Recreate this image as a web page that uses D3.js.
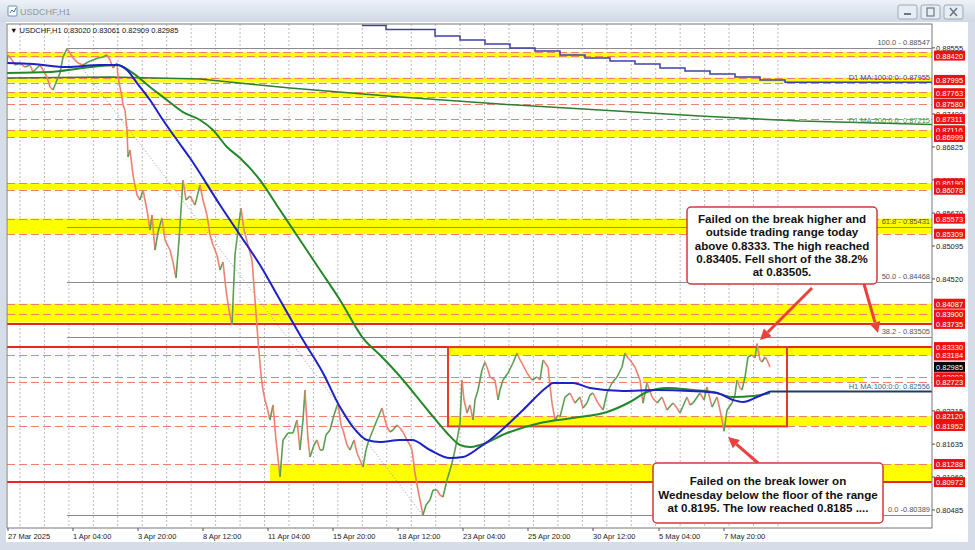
<!DOCTYPE html>
<html><head><meta charset="utf-8">
<script src="https://cdn.jsdelivr.net/npm/d3@7"></script>
<style>
body{margin:0;background:#fff;}
svg{display:block;font-family:"Liberation Sans",Arial,sans-serif;}
</style></head>
<body><svg id="chart" width="975" height="550"></svg>
<script>
// ---------------- DATA ----------------
const symbolTitle = "USDCHF,H1";
const ohlcInfo = "USDCHF,H1  0.83020 0.83061 0.82909 0.82985";

// hourly bar index , close
const usdchfClose = [[0,0.88308],[1,0.88430],[5,0.88342],[8,0.88255],[13,0.88290],[18,0.88220],[23,0.88255],[26,0.88133],[30,0.88203],[33,0.88255],[36,0.88168],[40,0.88046],[43,0.87871],[46,0.87819],[50,0.87993],[53,0.88115],[56,0.88395],[60,0.88540],[63,0.88465],[66,0.88377],[71,0.88290],[76,0.88255],[81,0.88308],[86,0.88342],[91,0.88377],[96,0.88395],[100,0.88430],[103,0.88342],[106,0.88203],[110,0.88290],[111,0.88046],[113,0.87871],[115,0.87696],[116,0.87557],[118,0.87469],[120,0.87120],[121,0.86649],[123,0.86771],[126,0.86334],[130,0.85985],[133,0.85898],[136,0.86073],[140,0.85723],[143,0.85374],[145,0.85636],[148,0.85025],[151,0.85339],[155,0.85584],[158,0.85199],[163,0.85025],[166,0.84815],[169,0.84536],[172,0.85199],[176,0.86247],[179,0.85898],[183,0.85968],[188,0.85811],[193,0.86160],[196,0.85898],[200,0.85636],[203,0.85287],[206,0.85112],[210,0.84938],[213,0.84676],[216,0.84815],[219,0.84326],[222,0.83977],[225,0.83715],[228,0.84938],[231,0.85374],[234,0.85758],[237,0.85374],[241,0.85112],[245,0.84850],[248,0.84152],[251,0.83453],[254,0.82842],[256,0.82580],[258,0.82406],[260,0.82283],[263,0.82057],[266,0.82318],[269,0.81707],[273,0.81061],[276,0.81707],[281,0.81830],[286,0.81830],[290,0.82057],[293,0.81533],[296,0.82057],[298,0.82580],[301,0.81707],[303,0.81410],[307,0.81620],[310,0.81707],[313,0.81533],[316,0.81533],[319,0.81795],[323,0.81882],[327,0.82144],[331,0.82353],[334,0.81969],[336,0.81882],[340,0.81620],[343,0.81533],[347,0.81707],[350,0.81480],[353,0.81358],[356,0.81236],[359,0.81533],[361,0.81655],[364,0.81795],[366,0.81882],[370,0.82057],[375,0.82266],[378,0.82057],[380,0.81934],[383,0.81847],[386,0.81882],[390,0.81969],[393,0.81917],[396,0.81847],[400,0.81707],[403,0.81620],[405,0.81533],[408,0.81131],[411,0.80834],[413,0.80660],[416,0.80398],[419,0.80572],[423,0.80660],[426,0.80834],[430,0.80834],[433,0.80747],[436,0.80712],[440,0.81009],[443,0.81183],[445,0.81306],[448,0.81533],[450,0.81707],[453,0.82004],[455,0.82755],[457,0.82406],[460,0.82179],[463,0.82318],[466,0.82057],[468,0.82406],[471,0.82580],[475,0.82930],[478,0.83069],[481,0.82930],[483,0.82807],[488,0.82755],[491,0.82406],[493,0.82580],[496,0.82755],[501,0.82877],[506,0.83052],[510,0.83226],[513,0.83104],[515,0.83052],[520,0.82877],[525,0.82755],[530,0.82807],[533,0.82755],[536,0.83104],[541,0.82982],[543,0.82668],[545,0.82353],[548,0.82057],[551,0.82144],[553,0.82109],[558,0.82458],[563,0.82528],[568,0.82353],[573,0.82458],[576,0.82266],[580,0.82353],[583,0.82493],[586,0.82528],[591,0.82353],[596,0.82231],[600,0.82528],[605,0.82703],[610,0.82807],[615,0.82982],[618,0.83226],[621,0.83139],[623,0.83104],[628,0.82982],[633,0.82755],[636,0.82353],[640,0.82703],[645,0.82458],[650,0.82353],[655,0.82458],[660,0.82231],[666,0.82353],[670,0.82266],[673,0.82179],[680,0.82458],[683,0.82318],[686,0.82353],[693,0.82528],[697,0.82406],[700,0.82633],[705,0.82283],[710,0.82458],[713,0.82231],[715,0.82057],[717,0.81860],[720,0.82231],[725,0.82353],[728,0.82493],[730,0.82755],[733,0.82615],[735,0.82580],[738,0.82807],[741,0.83157],[745,0.83191],[748,0.83139],[750,0.83390],[753,0.83104],[755,0.83069],[758,0.83157],[760,0.83104],[763,0.82985]];

const h1Ma100 = [[0,0.88290],[26,0.88273],[60,0.88220],[93,0.88255],[110,0.88255],[120,0.88168],[130,0.87941],[143,0.87644],[156,0.87295],[170,0.86946],[183,0.86631],[213,0.85811],[233,0.85287],[253,0.84763],[273,0.84152],[296,0.83453],[316,0.82877],[333,0.82283],[346,0.81934],[360,0.81707],[373,0.81672],[393,0.81707],[405,0.81707],[423,0.81533],[443,0.81393],[456,0.81410],[473,0.81585],[483,0.81707],[516,0.82231],[540,0.82633],[546,0.82703],[566,0.82703],[583,0.82615],[616,0.82563],[650,0.82580],[683,0.82563],[710,0.82528],[726,0.82406],[736,0.82371],[750,0.82458],[763,0.82556]];

const h1Ma200 = [[0,0.88115],[43,0.88133],[76,0.88203],[110,0.88255],[126,0.88115],[143,0.87871],[160,0.87644],[176,0.87434],[193,0.87295],[206,0.87120],[220,0.86823],[233,0.86631],[253,0.86247],[273,0.85723],[293,0.85199],[313,0.84676],[333,0.84152],[356,0.83488],[373,0.83191],[390,0.82877],[423,0.82179],[440,0.81830],[453,0.81620],[463,0.81585],[473,0.81620],[500,0.81830],[533,0.82004],[566,0.82091],[600,0.82196],[623,0.82371],[640,0.82545],[660,0.82615],[686,0.82580],[706,0.82545],[726,0.82458],[746,0.82476],[763,0.82528]];

const d1Ma100 = [[355,0.88945],[379,0.88875],[428,0.88762],[453,0.88692],[478,0.88622],[503,0.88552],[528,0.88500],[553,0.88430],[578,0.88377],[603,0.88325],[628,0.88273],[653,0.88203],[678,0.88150],[703,0.88098],[728,0.88046],[753,0.87993],[778,0.87955],[925,0.87955]];
const d1Ma200 = [[0,0.88028],[103,0.88046],[193,0.88011],[283,0.87853],[393,0.87696],[493,0.87574],[593,0.87469],[693,0.87364],[793,0.87277],[925,0.87215]];

const maLabels = ["D1 MA:100:0:0: 0.87955","D1 MA:200:0:0: 0.87215","H1 MA:100:0:0: 0.82556"];
const maLabelValues = [0.87955, 0.87215, 0.82556];

// yellow zones: [upper, lower, startBar, endBar]
const yellowZones = [[0.88475,0.88380,0,925],[0.88035,0.87950,0,925],[0.87780,0.87700,0,925],[0.87116,0.86999,0,925],[0.86190,0.86078,0,925],[0.85573,0.85309,0,925],[0.84087,0.83760,0,925],[0.83330,0.83184,441,925],[0.82802,0.82723,636,856],[0.82120,0.81952,441,925],[0.81288,0.80972,263,925]];
const dashedLevels = [0.88475,0.88420,0.88035,0.87950,0.87780,0.87700,0.87580,0.87311,0.87116,0.86999,0.86190,0.86078,0.85573,0.85309,0.84087,0.83900,0.83184,0.82802,0.82723,0.82120,0.81952,0.81288];
const solidRedLevels = [0.83735,0.83330,0.80972];

const fibPct = ["100.0","61.8","50.0","38.2","0.0"];
const fibValues = [0.88547,0.85431,0.84468,0.83505,0.80389];
const fibStartBar = 60, fibEndBar = 416;

const rangeBox = {startBar:441, endBar:780, top:0.83330, bottom:0.81945};

const priceTicks = [0.88555,0.87400,0.86825,0.86250,0.85670,0.85095,0.84520,0.82215,0.81635,0.81060,0.80485];
const redLabels = [0.88420,0.87995,0.87763,0.87580,0.87311,0.87116,0.86999,0.86190,0.86078,0.85573,0.85309,0.84087,0.83900,0.83735,0.83330,0.83184,0.82802,0.82723,0.82120,0.81952,0.81288,0.80972];
const currentPrice = 0.82985;

const timeTickBars = [1,66,131,196,261,326,391,456,521,586,652,717];
const timeTickLabels = ["27 Mar 2025","1 Apr 04:00","3 Apr 20:00","8 Apr 12:00","11 Apr 04:00","15 Apr 20:00","18 Apr 12:00","23 Apr 04:00","25 Apr 20:00","30 Apr 12:00","5 May 04:00","7 May 20:00"];

const noteHigh = ["Failed on the break higher and","outside trading range today","above 0.8333. The high reached","0.83405.  Fell short of the 38.2%","at 0.83505."];
const noteLow = ["Failed on the break lower on","Wednesday below the floor of the range","at 0.8195. The low reached 0.8185 ...."];

// ---------------- LAYOUT ----------------
const W = 975, H = 550;
const plot = {l:7, r:932, t:24, b:528};
const svg = d3.select("#chart");

const x = d3.scaleLinear().domain([0, 925]).range([plot.l, plot.r]);
const y = d3.scaleLinear().domain([0.80485, 0.87400]).range([510, 114]);

// window frame
const defs = svg.append("defs");
const tg = defs.append("linearGradient").attr("id","tbar").attr("x1",0).attr("y1",0).attr("x2",0).attr("y2",1);
tg.append("stop").attr("offset","0%").attr("stop-color","#eef2f7");
tg.append("stop").attr("offset","100%").attr("stop-color","#cfd8e4");
defs.append("clipPath").attr("id","clip").append("rect")
  .attr("x",plot.l).attr("y",plot.t).attr("width",plot.r-plot.l).attr("height",plot.b-plot.t);

svg.append("rect").attr("width",W).attr("height",H).attr("fill","#d5dde8");
svg.append("rect").attr("x",0).attr("y",0).attr("width",W).attr("height",22).attr("fill","url(#tbar)");
svg.append("rect").attr("x",6).attr("y",22).attr("width",962).attr("height",520).attr("fill","#ffffff");

// title bar
const ic = svg.append("g").attr("transform","translate(8,6)");
ic.append("rect").attr("width",9).attr("height",10).attr("rx",1).attr("fill","#ffffff").attr("stroke","#6c8fb8");
ic.append("path").attr("d","M2,7 L4,4 L6,6 L8,2").attr("fill","none").attr("stroke","#3a6fb0").attr("stroke-width",1);
svg.append("text").attr("x",20).attr("y",15).attr("font-size",9).attr("fill","#8d98a6").text(symbolTitle);
[[898,"min"],[921,"max"],[944,"close"]].forEach(([bx,kind])=>{
  const g = svg.append("g").attr("transform",`translate(${bx},5)`);
  g.append("rect").attr("width",19).attr("height",14).attr("rx",2).attr("fill","#e8edf3").attr("stroke","#9aa8ba");
  if(kind==="min") g.append("rect").attr("x",6).attr("y",8).attr("width",7).attr("height",2).attr("fill","#6a7788");
  if(kind==="max") g.append("rect").attr("x",6).attr("y",3).attr("width",7).attr("height",8).attr("fill","none").attr("stroke","#6a7788").attr("stroke-width",1.2);
  if(kind==="close") g.append("path").attr("d","M6,3 L13,11 M13,3 L6,11").attr("stroke","#6a7788").attr("stroke-width",1.6);
});

const P = svg.append("g").attr("clip-path","url(#clip)");

// vertical dotted grid
const gridBars = d3.range(13, 775, 24.45);
P.append("g").selectAll("line").data(gridBars).join("line")
  .attr("x1",d=>x(d)).attr("x2",d=>x(d)).attr("y1",plot.t).attr("y2",plot.b)
  .attr("stroke","#a9a9a9").attr("stroke-width",0.8).attr("stroke-dasharray","2,2");

// yellow zones
P.append("g").selectAll("rect").data(yellowZones).join("rect")
  .attr("x",d=>x(d[2])).attr("width",d=>x(d[3])-x(d[2]))
  .attr("y",d=>y(d[0])).attr("height",d=>y(d[1])-y(d[0]))
  .attr("fill","#ffff00");

// dashed levels
P.append("g").selectAll("line").data(dashedLevels).join("line")
  .attr("x1",plot.l).attr("x2",plot.r).attr("y1",d=>Math.round(y(d))+0.5).attr("y2",d=>Math.round(y(d))+0.5)
  .attr("stroke","#f0806a").attr("stroke-width",1).attr("stroke-dasharray","8,4");

// fib lines
P.append("g").selectAll("line").data(fibValues).join("line")
  .attr("x1",x(fibStartBar)).attr("x2",plot.r).attr("y1",d=>Math.round(y(d))+0.5).attr("y2",d=>Math.round(y(d))+0.5)
  .attr("stroke","#8a8a8a").attr("stroke-width",1);
P.append("line").attr("x1",x(fibStartBar)).attr("y1",y(fibValues[0])).attr("x2",x(fibEndBar)).attr("y2",y(fibValues[4]))
  .attr("stroke","#9a9a9a").attr("stroke-width",1).attr("stroke-dasharray","1,2");

// solid red levels
P.append("g").selectAll("line").data(solidRedLevels).join("line")
  .attr("x1",plot.l).attr("x2",plot.r).attr("y1",d=>y(d)).attr("y2",d=>y(d))
  .attr("stroke","#e8281e").attr("stroke-width",2);

// range box
P.append("rect").attr("x",x(rangeBox.startBar)).attr("y",y(rangeBox.top))
  .attr("width",x(rangeBox.endBar)-x(rangeBox.startBar)).attr("height",y(rangeBox.bottom)-y(rangeBox.top))
  .attr("fill","none").attr("stroke","#e53a30").attr("stroke-width",2);

// D1 MAs
const lineGen = d3.line().x(d=>x(d[0])).y(d=>y(d[1]));
P.append("path").datum(d1Ma100).attr("d",d3.line().x(d=>x(d[0])).y(d=>y(d[1])).curve(d3.curveStepAfter))
  .attr("fill","none").attr("stroke","#4040a8").attr("stroke-width",1.5);
P.append("path").datum(d1Ma200).attr("d",lineGen).attr("fill","none").attr("stroke","#2e7d32").attr("stroke-width",1.5);

// price (segment colours by direction)
const segs = d3.pairs(usdchfClose);
P.append("g").selectAll("line").data(segs).join("line")
  .attr("x1",d=>x(d[0][0])).attr("y1",d=>y(d[0][1])).attr("x2",d=>x(d[1][0])).attr("y2",d=>y(d[1][1]))
  .attr("stroke",d=>d[1][1]>=d[0][1]?"#5b9e52":"#ef7f6f").attr("stroke-width",1.6);

// H1 MAs
P.append("path").datum(h1Ma200).attr("d",lineGen.curve(d3.curveMonotoneX)).attr("fill","none").attr("stroke","#23882a").attr("stroke-width",2);
P.append("path").datum(h1Ma100).attr("d",lineGen.curve(d3.curveMonotoneX)).attr("fill","none").attr("stroke","#1c22c8").attr("stroke-width",2);
// H1 MA100 extension line
const lastBar = usdchfClose[usdchfClose.length-1][0];
P.append("line").attr("x1",x(lastBar)).attr("x2",plot.r).attr("y1",y(maLabelValues[2])).attr("y2",y(maLabelValues[2]))
  .attr("stroke","#1d3f5e").attr("stroke-width",2);

// MA labels
const maColors = ["#4040a8","#3f8f45","#2b6f8f"];
maLabels.forEach((t,i)=>{
  svg.append("text").attr("x",plot.r-2).attr("y",y(maLabelValues[i])-2).attr("text-anchor","end")
    .attr("font-size",7.5).attr("fill",maColors[i]).text(t);
});
// fib labels
fibValues.forEach((v,i)=>{
  const t = fibPct[i] === "0.0" ? `${fibPct[i]} -${v.toFixed(5)}` : `${fibPct[i]} - ${v.toFixed(5)}`;
  svg.append("text").attr("x",plot.r-2).attr("y",y(v)-3).attr("text-anchor","end")
    .attr("font-size",7.5).attr("fill","#555").text(t);
});

// info text
svg.append("text").attr("x",10).attr("y",33).attr("font-size",7.5).attr("fill","#111").text("\u25BC " + ohlcInfo);

// frame lines
svg.append("rect").attr("x",plot.l).attr("y",plot.t).attr("width",plot.r-plot.l).attr("height",plot.b-plot.t)
  .attr("fill","none").attr("stroke","#777").attr("stroke-width",1);

// time axis
const tAx = svg.append("g");
timeTickBars.forEach((b,i)=>{
  tAx.append("line").attr("x1",x(b)).attr("x2",x(b)).attr("y1",plot.b).attr("y2",plot.b+3).attr("stroke","#555");
  tAx.append("text").attr("x",x(b)).attr("y",plot.b+11).attr("font-size",7.5).attr("fill","#222").text(timeTickLabels[i]);
});

// price axis
const pAx = svg.append("g");
priceTicks.forEach(v=>{
  pAx.append("line").attr("x1",plot.r).attr("x2",plot.r+3).attr("y1",y(v)).attr("y2",y(v)).attr("stroke","#555");
  pAx.append("text").attr("x",plot.r+4).attr("y",y(v)+3).attr("font-size",7.5).attr("fill","#222").text(v.toFixed(5));
});
redLabels.forEach(v=>{
  pAx.append("rect").attr("x",plot.r+2).attr("y",y(v)-5).attr("width",31).attr("height",10).attr("fill","#f01010");
  pAx.append("text").attr("x",plot.r+4).attr("y",y(v)+3).attr("font-size",7.5).attr("fill","#fff").text(v.toFixed(5));
});
pAx.append("rect").attr("x",plot.r+2).attr("y",y(currentPrice)-5).attr("width",31).attr("height",10).attr("fill","#000");
pAx.append("text").attr("x",plot.r+4).attr("y",y(currentPrice)+3).attr("font-size",7.5).attr("fill","#fff").text(currentPrice.toFixed(5));

// annotations
function arrow(x1,y1,x2,y2){
  const a = Math.atan2(y2-y1,x2-x1), L=11, w=5.5;
  const bx = x2 - L*Math.cos(a), by = y2 - L*Math.sin(a);
  svg.append("line").attr("x1",x1).attr("y1",y1).attr("x2",bx).attr("y2",by).attr("stroke","#e8423c").attr("stroke-width",3);
  svg.append("path").attr("d",`M${x2},${y2} L${bx+w*Math.sin(a)},${by-w*Math.cos(a)} L${bx-w*Math.sin(a)},${by+w*Math.cos(a)} Z`).attr("fill","#e8423c");
}
arrow(812,288, x(753), y(0.83400)-3);
arrow(864,284, 878, 333);
arrow(758,463, x(721), y(0.81830)+4);

function note(lines,bx,by,bw,bh,lh,ty){
  svg.append("rect").attr("x",bx).attr("y",by).attr("width",bw).attr("height",bh).attr("rx",4)
    .attr("fill","#fff").attr("stroke","#d23a3a").attr("stroke-width",1.5);
  lines.forEach((t,i)=>svg.append("text").attr("x",bx+bw/2).attr("y",ty+i*lh).attr("text-anchor","middle")
    .attr("font-size",11.6).attr("font-weight","bold").attr("fill","#111").text(t));
}
note(noteHigh,687,207,190,77,13.3,223);
note(noteLow,653,463,230,60,13.5,485);
</script>
</body></html>
